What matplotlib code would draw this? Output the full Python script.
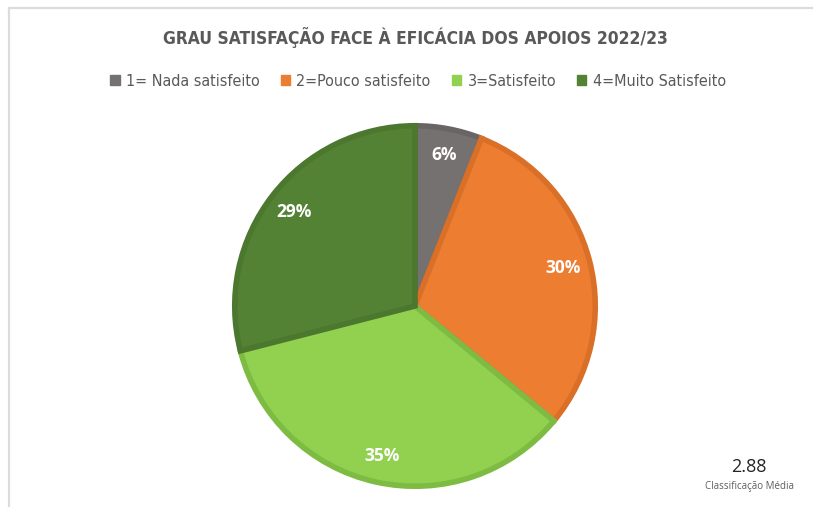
import matplotlib
matplotlib.use('Agg')
import matplotlib.pyplot as plt
from matplotlib.patches import Patch
from matplotlib.lines import Line2D

plt.rcParams['font.family'] = ['DejaVu Sans']
plt.rcParams['font.stretch'] = 'condensed'

# data
categories = ['1= Nada satisfeito', '2=Pouco satisfeito', '3=Satisfeito', '4=Muito Satisfeito']
shares = [6, 30, 35, 29]
colors = ['#767171', '#ED7D31', '#92D050', '#548235']
edge_colors = ['#6A6565', '#DA6F28', '#7DBB43', '#4B772E']
avg_rating = '2.88'

fig = plt.figure(figsize=(8.13, 5.07), dpi=100)

# chart frame (light border, top and left)
fig.add_artist(Line2D([9 / 813, 1.0], [1 - 8 / 507, 1 - 8 / 507], color='#dcdcdc', lw=1.6))
fig.add_artist(Line2D([9 / 813, 9 / 813], [0, 1 - 8 / 507], color='#dcdcdc', lw=1.6))

# pie
ax = fig.add_axes([(415 - 183) / 813, (507 - 306 - 183) / 507, 366 / 813, 366 / 507])
wedges, _, autotexts = ax.pie(
    shares, colors=colors, startangle=90, counterclock=False,
    radius=0.985, autopct='%1.0f%%', pctdistance=0.85,
    wedgeprops=dict(linewidth=4, joinstyle='miter'),
    textprops=dict(color='white', fontsize=12.5, fontweight='bold',
                   family=['Open Sans', 'DejaVu Sans'], fontstretch='normal'))
for w, ec in zip(wedges, edge_colors):
    w.set_edgecolor(ec)
ax.set_xlim(-1, 1)
ax.set_ylim(-1, 1)
ax.set_aspect('equal')

# title
fig.text(415 / 813, 1 - 38 / 507, 'GRAU SATISFAÇÃO FACE À EFICÁCIA DOS APOIOS 2022/23',
         ha='center', va='center', fontsize=12.5, fontweight='bold', color='#595959')

# legend
handles = [Patch(facecolor=c, edgecolor=c) for c in colors]
fig.legend(handles, categories, loc='center', bbox_to_anchor=(418 / 813, 1 - 81 / 507),
           ncol=4, frameon=False, fontsize=11.5, labelcolor='#595959',
           handlelength=0.6, handleheight=0.6, handletextpad=0.4, columnspacing=1.3)

# average rating card
fig.text(749 / 813, 1 - 467 / 507, avg_rating, ha='center', va='center',
         fontsize=13, color='#252423', family=['Open Sans', 'DejaVu Sans'], fontstretch='normal')
fig.text(749 / 813, 1 - 487 / 507, 'Classificação Média', ha='center', va='center',
         fontsize=7, color='#605E5C', family=['Open Sans', 'DejaVu Sans'], fontstretch='normal')

plt.savefig('out.png', dpi=100)
plt.close(fig)
